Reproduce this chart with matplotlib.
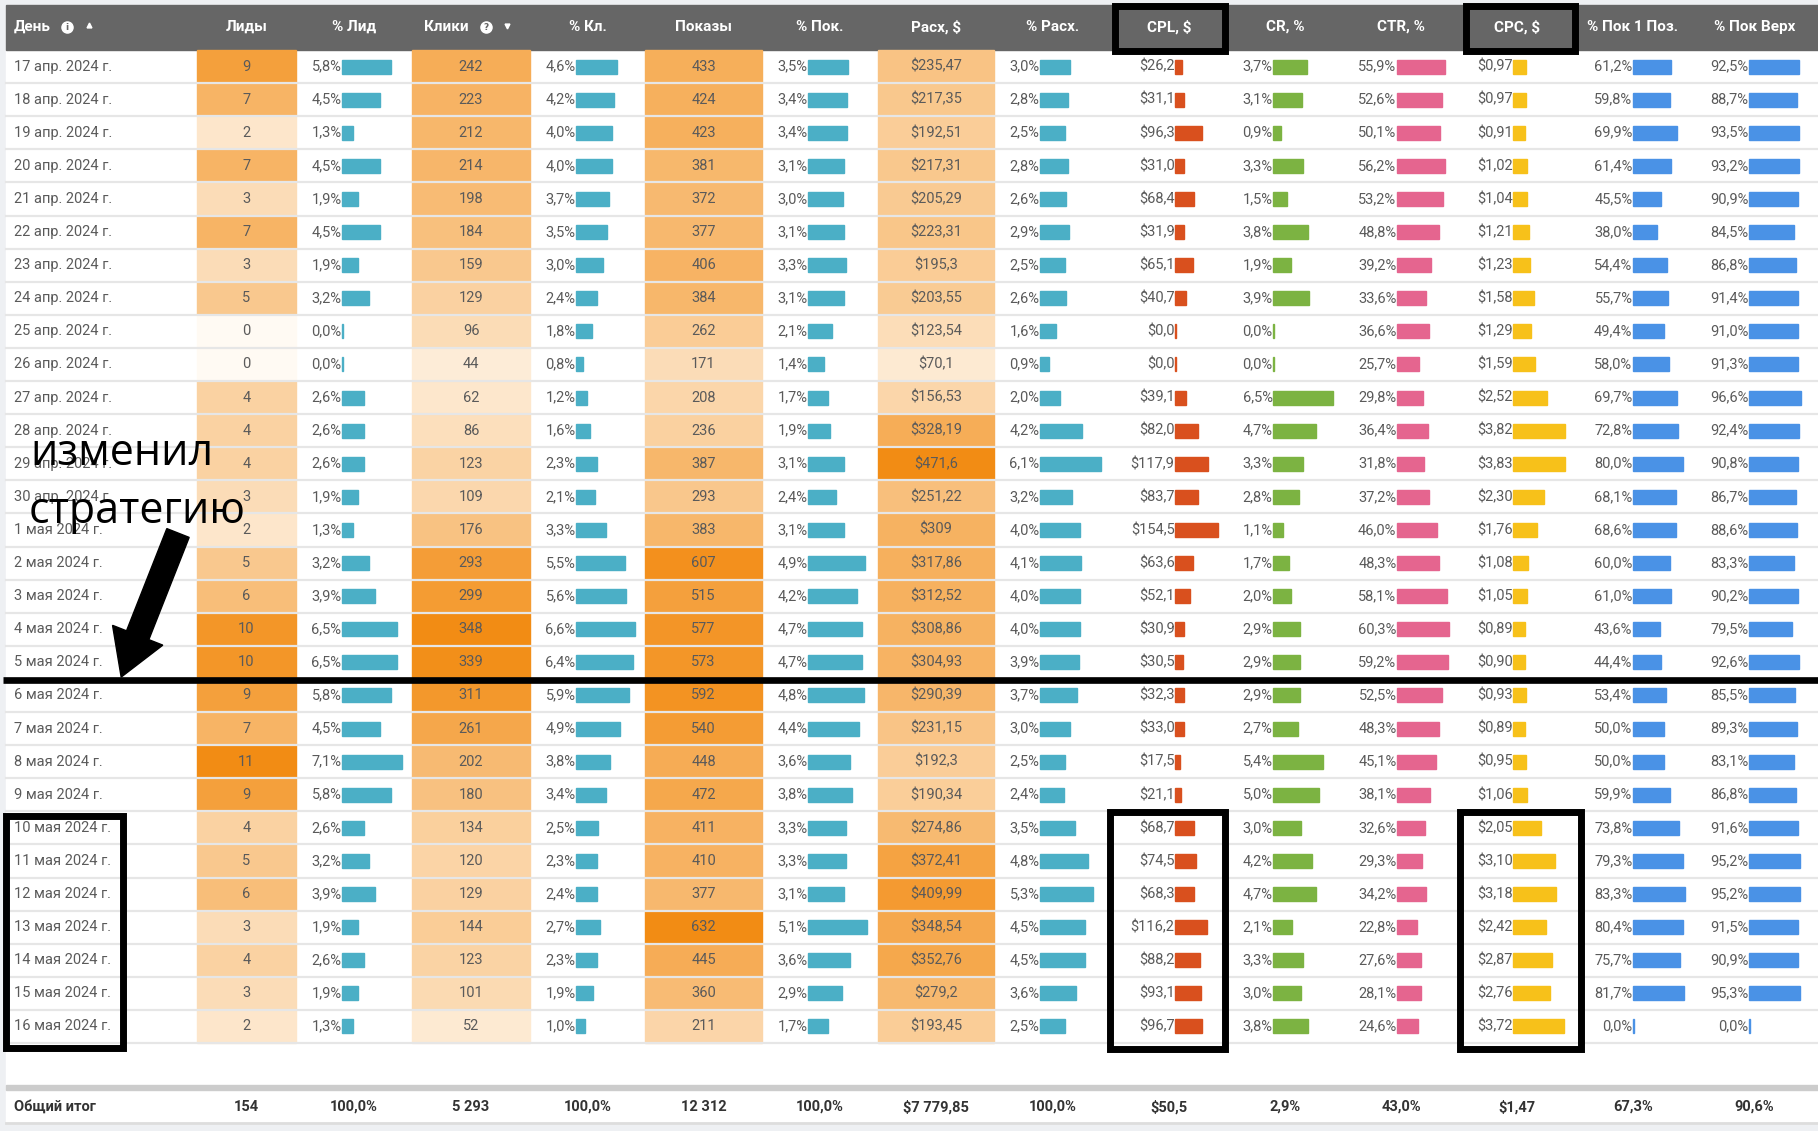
import numpy as np
import matplotlib.pyplot as plt
from matplotlib.patches import Rectangle, FancyArrow
from matplotlib.colors import LinearSegmentedColormap

# ---------------- data ----------------
days = ['17 апр. 2024 г.', '18 апр. 2024 г.', '19 апр. 2024 г.', '20 апр. 2024 г.',
        '21 апр. 2024 г.', '22 апр. 2024 г.', '23 апр. 2024 г.', '24 апр. 2024 г.',
        '25 апр. 2024 г.', '26 апр. 2024 г.', '27 апр. 2024 г.', '28 апр. 2024 г.',
        '29 апр. 2024 г.', '30 апр. 2024 г.', '1 мая 2024 г.', '2 мая 2024 г.',
        '3 мая 2024 г.', '4 мая 2024 г.', '5 мая 2024 г.', '6 мая 2024 г.',
        '7 мая 2024 г.', '8 мая 2024 г.', '9 мая 2024 г.', '10 мая 2024 г.',
        '11 мая 2024 г.', '12 мая 2024 г.', '13 мая 2024 г.', '14 мая 2024 г.',
        '15 мая 2024 г.', '16 мая 2024 г.']
leads = [9, 7, 2, 7, 3, 7, 3, 5, 0, 0, 4, 4, 4, 3, 2, 5, 6, 10, 10, 9, 7, 11, 9, 4, 5, 6, 3, 4, 3, 2]
leads_pct = [5.8, 4.5, 1.3, 4.5, 1.9, 4.5, 1.9, 3.2, 0.0, 0.0, 2.6, 2.6, 2.6, 1.9, 1.3, 3.2,
             3.9, 6.5, 6.5, 5.8, 4.5, 7.1, 5.8, 2.6, 3.2, 3.9, 1.9, 2.6, 1.9, 1.3]
clicks = [242, 223, 212, 214, 198, 184, 159, 129, 96, 44, 62, 86, 123, 109, 176, 293,
          299, 348, 339, 311, 261, 202, 180, 134, 120, 129, 144, 123, 101, 52]
clicks_pct = [4.6, 4.2, 4.0, 4.0, 3.7, 3.5, 3.0, 2.4, 1.8, 0.8, 1.2, 1.6, 2.3, 2.1, 3.3, 5.5,
              5.6, 6.6, 6.4, 5.9, 4.9, 3.8, 3.4, 2.5, 2.3, 2.4, 2.7, 2.3, 1.9, 1.0]
shows = [433, 424, 423, 381, 372, 377, 406, 384, 262, 171, 208, 236, 387, 293, 383, 607,
         515, 577, 573, 592, 540, 448, 472, 411, 410, 377, 632, 445, 360, 211]
shows_pct = [3.5, 3.4, 3.4, 3.1, 3.0, 3.1, 3.3, 3.1, 2.1, 1.4, 1.7, 1.9, 3.1, 2.4, 3.1, 4.9,
             4.2, 4.7, 4.7, 4.8, 4.4, 3.6, 3.8, 3.3, 3.3, 3.1, 5.1, 3.6, 2.9, 1.7]
spend = [235.47, 217.35, 192.51, 217.31, 205.29, 223.31, 195.3, 203.55, 123.54, 70.1,
         156.53, 328.19, 471.6, 251.22, 309.0, 317.86, 312.52, 308.86, 304.93, 290.39,
         231.15, 192.3, 190.34, 274.86, 372.41, 409.99, 348.54, 352.76, 279.2, 193.45]
spend_pct = [3.0, 2.8, 2.5, 2.8, 2.6, 2.9, 2.5, 2.6, 1.6, 0.9, 2.0, 4.2, 6.1, 3.2, 4.0, 4.1,
             4.0, 4.0, 3.9, 3.7, 3.0, 2.5, 2.4, 3.5, 4.8, 5.3, 4.5, 4.5, 3.6, 2.5]
cpl = [26.2, 31.1, 96.3, 31.0, 68.4, 31.9, 65.1, 40.7, 0.0, 0.0, 39.1, 82.0, 117.9, 83.7,
       154.5, 63.6, 52.1, 30.9, 30.5, 32.3, 33.0, 17.5, 21.1, 68.7, 74.5, 68.3, 116.2,
       88.2, 93.1, 96.7]
cr = [3.7, 3.1, 0.9, 3.3, 1.5, 3.8, 1.9, 3.9, 0.0, 0.0, 6.5, 4.7, 3.3, 2.8, 1.1, 1.7,
      2.0, 2.9, 2.9, 2.9, 2.7, 5.4, 5.0, 3.0, 4.2, 4.7, 2.1, 3.3, 3.0, 3.8]
ctr = [55.9, 52.6, 50.1, 56.2, 53.2, 48.8, 39.2, 33.6, 36.6, 25.7, 29.8, 36.4, 31.8, 37.2,
       46.0, 48.3, 58.1, 60.3, 59.2, 52.5, 48.3, 45.1, 38.1, 32.6, 29.3, 34.2, 22.8, 27.6,
       28.1, 24.6]
cpc = [0.97, 0.97, 0.91, 1.02, 1.04, 1.21, 1.23, 1.58, 1.29, 1.59, 2.52, 3.82, 3.83, 2.30,
       1.76, 1.08, 1.05, 0.89, 0.90, 0.93, 0.89, 0.95, 1.06, 2.05, 3.10, 3.18, 2.42, 2.87,
       2.76, 3.72]
top1 = [61.2, 59.8, 69.9, 61.4, 45.5, 38.0, 54.4, 55.7, 49.4, 58.0, 69.7, 72.8, 80.0, 68.1,
        68.6, 60.0, 61.0, 43.6, 44.4, 53.4, 50.0, 50.0, 59.9, 73.8, 79.3, 83.3, 80.4, 75.7,
        81.7, 0.0]
top_any = [92.5, 88.7, 93.5, 93.2, 90.9, 84.5, 86.8, 91.4, 91.0, 91.3, 96.6, 92.4, 90.8,
           86.7, 88.6, 83.3, 90.2, 79.5, 92.6, 85.5, 89.3, 83.1, 86.8, 91.6, 95.2, 95.2,
           91.5, 90.9, 95.3, 0.0]

headers = ['День', 'Лиды', '% Лид', 'Клики', '% Кл.', 'Показы', '% Пок.', 'Расх, $',
           '% Расх.', 'CPL, $', 'CR, %', 'CTR, %', 'CPC, $', '% Пок 1 Поз.', '% Пок Верх']
totals = ['Общий итог', '154', '100,0%', '5 293', '100,0%', '12 312', '100,0%',
          '$7 779,85', '100,0%', '$50,5', '2,9%', '43,0%', '$1,47', '67,3%', '90,6%']


def pct(v):
    return ('%.1f' % v).replace('.', ',') + '%'


def money1(v):
    return '$' + ('%.1f' % v).replace('.', ',')


def money2(v):
    return '$' + ('%.2f' % v).replace('.', ',')


def money_trim(v):
    s = ('%.2f' % v).rstrip('0').rstrip('.')
    return '$' + s.replace('.', ',')


def plain(v):
    return str(v)


# ---------------- layout ----------------
W, H = 1818, 1131
edges = [6, 197, 296, 412, 530, 645, 762, 878, 994, 1111, 1227, 1343, 1459, 1575, 1691, 1818]
row_top = 50
row_h = 33.1
n = len(days)

body_font = ['Roboto', 'DejaVu Sans']
head_font = ['Liberation Sans Narrow', 'Roboto', 'DejaVu Sans']
txt_col = '#5a5a5a'
fs = 10.5

heat = LinearSegmentedColormap.from_list('heat', ['#fffaf3', '#f28c14'])

# column index -> (values, formatter)
heat_cols = {1: (leads, plain), 3: (clicks, plain), 5: (shows, plain), 7: (spend, money_trim)}
# column index -> (values, formatter, bar offset, max bar length, colour)
bar_cols = {
    2: (leads_pct, pct, 46, 60, '#4bafc6'),
    4: (clicks_pct, pct, 46, 59, '#4bafc6'),
    6: (shows_pct, pct, 46, 59, '#4bafc6'),
    8: (spend_pct, pct, 46, 61, '#4bafc6'),
    9: (cpl, money1, 64, 43, '#d9501e'),
    10: (cr, pct, 46, 60, '#7cb342'),
    11: (ctr, pct, 54, 52, '#e5658f'),
    12: (cpc, money2, 54, 52, '#f7c11a'),
    13: (top1, pct, 58, 52, '#4a92e6'),
    14: (top_any, pct, 58, 52, '#4a92e6'),
}

fig = plt.figure(figsize=(W / 100, H / 100), dpi=100)
fig.patch.set_facecolor('#eef0f3')
ax = fig.add_axes([0, 0, 1, 1])
ax.set_xlim(0, W)
ax.set_ylim(H, 0)
ax.axis('off')

ax.add_patch(Rectangle((6, 5), W - 6, 1118, color='white', zorder=0))
ax.add_patch(Rectangle((6, 5), W - 6, 45, color='#666666', zorder=1))

# header
for j, h in enumerate(headers):
    cx = (edges[j] + edges[j + 1]) / 2
    if j == 0:
        ax.text(14, 27, h, color='white', fontsize=11, fontweight='bold',
                family=head_font, ha='left', va='center', zorder=3)
    elif j == 3:
        ax.text(424, 27, h, color='white', fontsize=11, fontweight='bold',
                family=head_font, ha='left', va='center', zorder=3)
    else:
        ax.text(cx, 27, h, color='white', fontsize=11, fontweight='bold',
                family=head_font, ha='center', va='center', zorder=3)
# info icons and sort carets
for x, sym in [(67, 'i'), (486, '?')]:
    ax.plot(x, 27, 'o', ms=8, color='white', zorder=3)
    ax.text(x, 27.5, sym, color='#666666', fontsize=6.5, fontweight='bold',
            ha='center', va='center', zorder=4)
ax.plot(89, 25, '^', ms=3.5, color='white', zorder=3)
ax.plot(507, 26, 'v', ms=3.5, color='white', zorder=3)

# rows
for i in range(n):
    y0 = row_top + i * row_h
    yc = y0 + row_h / 2
    ax.text(14, yc, days[i], color=txt_col, fontsize=fs, family=body_font,
            ha='left', va='center', zorder=3)
    for j, (vals, f) in heat_cols.items():
        frac = vals[i] / max(vals)
        ax.add_patch(Rectangle((edges[j], y0), edges[j + 1] - edges[j], row_h,
                               color=heat(frac), zorder=1))
        ax.text((edges[j] + edges[j + 1]) / 2, yc, f(vals[i]), color=txt_col,
                fontsize=fs, family=body_font, ha='center', va='center', zorder=3)
    for j, (vals, f, off, blen, c) in bar_cols.items():
        bx = edges[j] + off
        w = max(vals[i] / max(vals) * blen, 1.2)
        ax.add_patch(Rectangle((bx, yc - 7), w, 14, color=c, zorder=2))
        ax.text(bx - 0.5, yc, f(vals[i]), color=txt_col, fontsize=fs,
                family=body_font, ha='right', va='center', zorder=3)

# row separators
for i in range(1, n + 1):
    ax.plot([6, W], [row_top + i * row_h] * 2, color='#e6e6e6', lw=1.6, zorder=2.5)

# totals
ax.add_patch(Rectangle((6, 1085), W - 6, 5, color='#cccccc', zorder=1))
ax.plot([6, W], [1123, 1123], color='#dddddd', lw=2, zorder=1)
for j, t in enumerate(totals):
    if j == 0:
        ax.text(14, 1107, t, color='#333333', fontsize=10.5, fontweight='bold',
                family=body_font, ha='left', va='center')
    else:
        ax.text((edges[j] + edges[j + 1]) / 2, 1107, t, color='#333333', fontsize=10.5,
                fontweight='bold', family=body_font, ha='center', va='center')

# ---------------- annotations ----------------
ax.plot([3, W], [680, 680], color='black', lw=4.8, zorder=5, solid_capstyle='butt')

ax.text(30, 465, 'изменил', fontsize=31, family=['Open Sans', 'DejaVu Sans'],
        color='black', ha='left', va='baseline', zorder=6)
ax.text(29, 523, 'стратегию', fontsize=31, family=['Open Sans', 'DejaVu Sans'],
        color='black', ha='left', va='baseline', zorder=6)

ax.add_patch(FancyArrow(178, 533, -56 * 0.72, 142 * 0.72, width=24, head_width=54,
                        head_length=45, length_includes_head=False,
                        color='black', zorder=6))

lw_box = 5
t = 7
for x0, y0, x1, y1 in [(1111, 2, 1228, 54), (1462, 2, 1578, 54),
                       (1106, 808, 1228, 1052), (1456, 808, 1584, 1052),
                       (2, 812, 126, 1051)]:
    ax.add_patch(Rectangle((x0 + t / 2, y0 + t / 2), x1 - x0 - t, y1 - y0 - t,
                           fill=False, ec='black', lw=lw_box, zorder=7))

fig.savefig('out.png', dpi=100)
plt.close()
